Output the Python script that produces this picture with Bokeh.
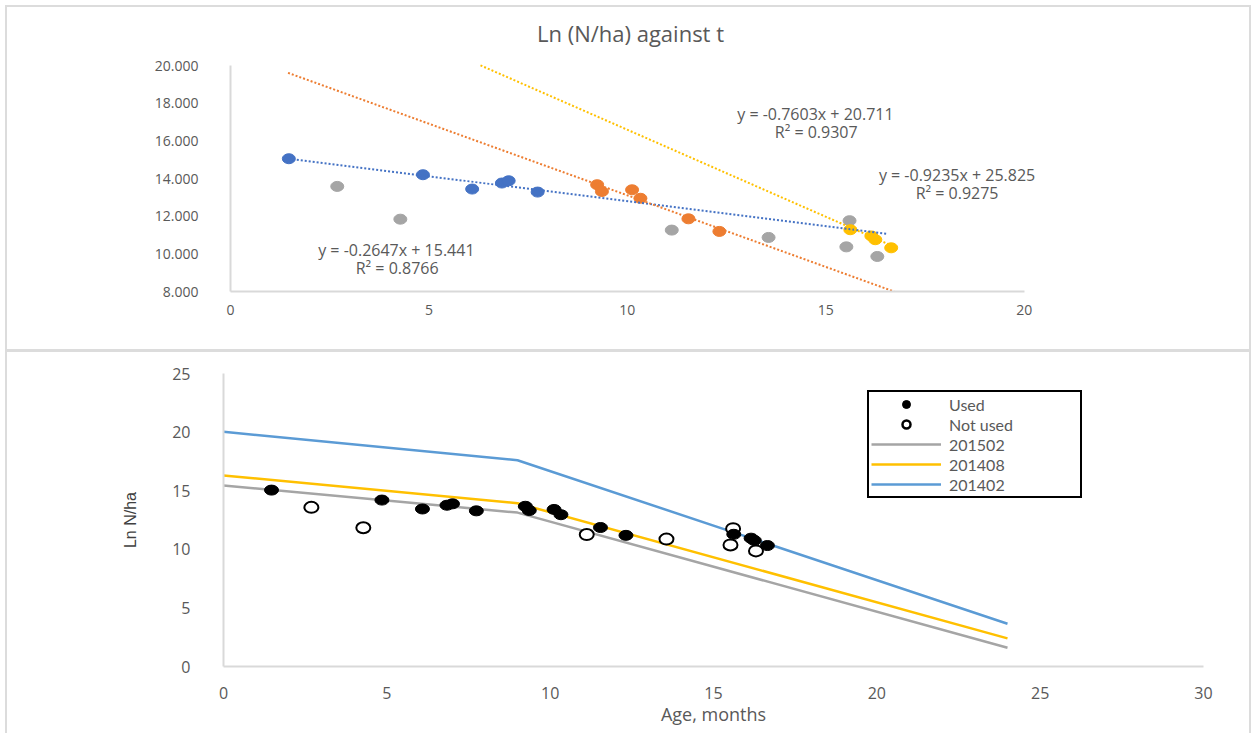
from bokeh.plotting import figure
from bokeh.models import (Label, Legend, LegendItem, FixedTicker,
                          PrintfTickFormatter, Range1d)
from bokeh.embed import file_html
from bokeh.resources import INLINE

# ---------------- data (top chart) ----------------
blue_x = [1.47, 4.85, 6.09, 6.84, 7.01, 7.74]
blue_y = [15.05, 14.20, 13.44, 13.76, 13.88, 13.28]
orange_x = [9.24, 9.36, 10.12, 10.33, 11.54, 12.32]
orange_y = [13.67, 13.31, 13.40, 12.95, 11.86, 11.19]
gray_x = [2.69, 4.28, 11.12, 13.56, 15.60, 15.52, 16.30]
gray_y = [13.58, 11.84, 11.26, 10.87, 11.76, 10.37, 9.86]
yellow_x = [15.62, 16.15, 16.25, 16.65]
yellow_y = [11.28, 10.95, 10.75, 10.32]

# trend lines: slope, intercept, x-span
trend_blue = (-0.2647, 15.441, 1.47, 16.55)
trend_orange = (-0.7603, 20.711, 1.45, 16.72)
trend_yellow = (-0.9235, 25.825, 6.30, 16.70)

eq_texts = ["y = -0.7603x + 20.711", "R\u00b2 = 0.9307",
            "y = -0.9235x + 25.825", "R\u00b2 = 0.9275",
            "y = -0.2647x + 15.441", "R\u00b2 = 0.8766"]
eq_x = [14.74, 14.76, 18.31, 18.31, 4.18, 4.2]
eq_y = [17.40, 16.49, 14.16, 13.22, 10.18, 9.27]

top_title = "Ln (N/ha) against t"
top_xticks = [0, 5, 10, 15, 20]
top_yticks = [8, 10, 12, 14, 16, 18, 20]

# ---------------- data (bottom chart) ----------------
used_x = blue_x + orange_x + yellow_x
used_y = blue_y + orange_y + yellow_y
notused_x = gray_x
notused_y = gray_y

model_x = [0, 9, 24]
model_201502 = [15.44, 13.13, 1.60]
model_201408 = [16.30, 13.93, 2.40]
model_201402 = [20.02, 17.60, 3.65]

bot_xticks = [0, 5, 10, 15, 20, 25, 30]
bot_yticks = [0, 5, 10, 15, 20, 25]

FONT = "Open Sans"
TXT = "#595959"
AXIS = "#d9d9d9"
PANEL = "2px solid #dcdcdc"

C_BLUE = "#4472C4"
C_ORANGE = "#ED7D31"
C_GRAY = "#A5A5A5"
C_YELLOW = "#FFC000"
C_LBLUE = "#5B9BD5"


def style_axes(p, label_size):
    p.xgrid.visible = False
    p.ygrid.visible = False
    p.outline_line_color = None
    for ax in (p.xaxis[0], p.yaxis[0]):
        ax.axis_line_color = AXIS
        ax.axis_line_width = 2
        ax.major_tick_line_color = None
        ax.minor_tick_line_color = None
        ax.major_label_text_font = FONT
        ax.major_label_text_font_size = label_size
        ax.major_label_text_color = TXT


# ---------------- top figure ----------------
# frame extends beyond the axes (axis bounds limit the drawn axes) so that
# the title and the right-hand equation are not clipped by the frame
p1 = figure(width=1242, height=342, x_range=Range1d(0, 22), y_range=Range1d(8, 22.39),
            output_backend="svg", toolbar_location=None,
            min_border_left=223, min_border_right=146,
            min_border_top=13, min_border_bottom=58)
style_axes(p1, "14px")
p1.xaxis.ticker = FixedTicker(ticks=top_xticks)
p1.yaxis.ticker = FixedTicker(ticks=top_yticks)
p1.xaxis.bounds = (top_xticks[0], top_xticks[-1])
p1.yaxis.bounds = (top_yticks[0], top_yticks[-1])
p1.yaxis.formatter = PrintfTickFormatter(format="%.3f")
p1.yaxis.major_label_standoff = 26
p1.xaxis.major_label_standoff = 7

for xs, ys, c in [(gray_x, gray_y, C_GRAY), (blue_x, blue_y, C_BLUE),
                  (orange_x, orange_y, C_ORANGE), (yellow_x, yellow_y, C_YELLOW)]:
    p1.ellipse(x=xs, y=ys, width=13, height=10, width_units="screen",
               height_units="screen", fill_color=c, line_color=c, line_width=1)

for (m, b, x0, x1), c in [(trend_blue, C_BLUE), (trend_orange, C_ORANGE),
                          (trend_yellow, C_YELLOW)]:
    xs = [x0, x1]
    ys = [m * x + b for x in xs]
    p1.line(xs, ys, line_color=c, line_width=2, line_dash="2 2")

for t, x, y in zip(eq_texts, eq_x, eq_y):
    p1.add_layout(Label(x=x, y=y, text=t, text_align="center", text_baseline="middle",
                        text_font=FONT, text_font_size="16px", text_color=TXT))

p1.add_layout(Label(x=10.08, y=21.7, text=top_title, text_align="center",
                    text_baseline="middle", text_font=FONT,
                    text_font_size="22px", text_color=TXT))

# ---------------- bottom figure ----------------
p2 = figure(width=1242, height=381, x_range=Range1d(0, 30), y_range=Range1d(0, 25),
            output_backend="svg", toolbar_location=None,
            min_border_left=216, min_border_right=46,
            min_border_top=21, min_border_bottom=67)
style_axes(p2, "16px")
p2.xaxis.ticker = FixedTicker(ticks=bot_xticks)
p2.yaxis.ticker = FixedTicker(ticks=bot_yticks)
p2.yaxis.major_label_standoff = 27
p2.xaxis.major_label_standoff = 14
p2.xaxis.axis_label = "Age, months"
p2.xaxis.axis_label_text_font = FONT
p2.xaxis.axis_label_text_font_size = "18px"
p2.xaxis.axis_label_text_font_style = "normal"
p2.xaxis.axis_label_text_color = TXT
p2.xaxis.axis_label_standoff = 0
p2.yaxis.axis_label = "Ln N/ha"
p2.yaxis.axis_label_text_font = "Liberation Sans"
p2.yaxis.axis_label_text_font_size = "16px"
p2.yaxis.axis_label_text_font_style = "normal"
p2.yaxis.axis_label_text_color = "#404040"
p2.yaxis.axis_label_standoff = 30

l_gray = p2.line(model_x, model_201502, line_color=C_GRAY, line_width=2.5)
l_yel = p2.line(model_x, model_201408, line_color=C_YELLOW, line_width=2.5)
l_blue = p2.line(model_x, model_201402, line_color=C_LBLUE, line_width=2.5)

p2.ellipse(x=notused_x, y=notused_y, width=14, height=11, width_units="screen",
           height_units="screen", fill_color="white", line_color="black", line_width=2)
p2.ellipse(x=used_x, y=used_y, width=14, height=10, width_units="screen",
           height_units="screen", fill_color="black", line_color="black")

# legend-only markers (NaN point, never drawn in the plot area)
nan = float("nan")
leg_used = p2.scatter([nan], [nan], marker="circle", size=10, fill_color="black",
                      line_color="black")
leg_not = p2.scatter([nan], [nan], marker="circle", size=11, fill_color="white",
                     line_color="black", line_width=2.5)

legend = Legend(items=[LegendItem(label="Used", renderers=[leg_used]),
                       LegendItem(label="Not used", renderers=[leg_not]),
                       LegendItem(label="201502", renderers=[l_gray]),
                       LegendItem(label="201408", renderers=[l_yel]),
                       LegendItem(label="201402", renderers=[l_blue])],
                location=(644, 168), orientation="vertical",
                glyph_width=70, glyph_height=20, label_height=20, spacing=0,
                padding=2, margin=0, label_standoff=8, label_width=129,
                border_line_color="black", border_line_width=2, border_line_alpha=1,
                background_fill_color="white", background_fill_alpha=1,
                label_text_font="Lato", label_text_font_size="16px",
                label_text_color=TXT)
p2.add_layout(legend, "center")

p1.margin = (7, 0, 0, 7)
p2.margin = (3, 0, 0, 7)
p1.styles = {"outline": PANEL}
p2.styles = {"outline": PANEL}

open("out.html", "w").write(file_html([p1, p2], INLINE))
